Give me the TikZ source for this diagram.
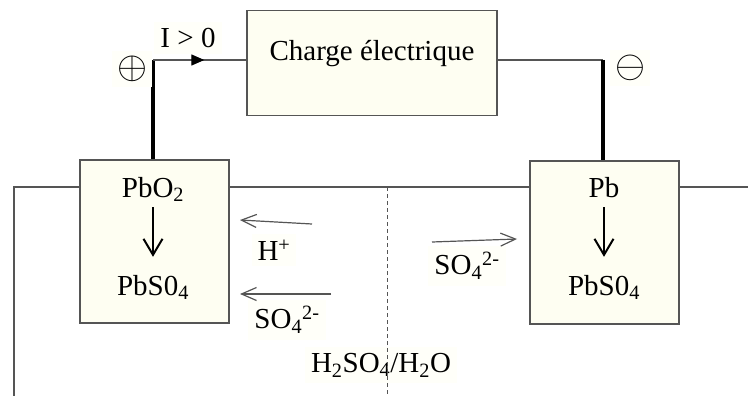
\documentclass[tikz,border=0pt]{standalone}
\usepackage{fontspec}
\setmainfont{Liberation Serif}
\usetikzlibrary{arrows.meta,decorations.markings}
\definecolor{creme}{RGB}{254,254,242}
\definecolor{trait}{RGB}{85,85,85}

\begin{document}
\begin{tikzpicture}[x=1pt,y=-1pt,font=\fontsize{29}{33}\selectfont,
  boite/.style={draw=trait,line width=1.3pt,fill=creme,inner sep=0pt},
  espece/.style={inner sep=4pt,text height=20pt,text depth=6pt},
  etiquette/.style={fill=creme!45,inner sep=6pt},
  borne/.style={fill=creme!45,inner sep=5pt},
  fil/.style={draw=trait,line width=1.3pt},
  filepais/.style={draw=black,line width=3.5pt},
  ion/.style={draw=trait,line width=1.2pt,-{Straight Barb[length=15pt,width=13pt]}},
  reaction/.style={draw=black,line width=2pt,shorten >=14pt,-{Straight Barb[length=16pt,width=19pt]}}]
  \useasboundingbox (0,0) rectangle (748,396);
  % electrolyte (cuve)
  \coordinate (surface) at (14,187);
  \coordinate (fond) at (14,396);
  \coordinate (bord) at (748,187);
  \coordinate (separhaut) at (387,187);
  \coordinate (separbas) at (387,396);
  % boites
  \node[boite,minimum width=250pt,minimum height=105pt,text height=20pt,text depth=24pt] (charge) at (372,63) {Charge électrique};
  \node[boite,minimum width=149pt,minimum height=163pt] (plaqueplus) at (154.5,241.5) {};
  \node[boite,minimum width=149pt,minimum height=163pt] (plaquemoins) at (604.5,242.5) {};
  \draw[fil] (fond) -- (surface) -- (plaqueplus.west |- surface);
  \draw[fil] (plaqueplus.east |- surface) -- (plaquemoins.west |- surface);
  \draw[fil] (plaquemoins.east |- surface) -- (bord);
  % reactions aux electrodes
  \node[espece] (pbo2) at (153,190) {PbO\textsubscript{2}};
  \node[espece] (sulfplus) at (153,288) {PbS0\textsubscript{4}};
  \node[espece] (pb) at (604,190) {Pb};
  \node[espece] (sulfmoins) at (604,288) {PbS0\textsubscript{4}};
  \draw[reaction] (pbo2) -- (sulfplus);
  \draw[reaction] (pb) -- (sulfmoins);
  % circuit exterieur
  \coordinate (coinplus) at (153,60);
  \coordinate (coinmoins) at (603,60);
  \draw[filepais] (plaqueplus.north -| coinplus) -- (coinplus);
  \draw[fil,postaction={decorate},decoration={markings,
    mark=at position 0.55 with {\arrow[black]{Triangle[length=13pt,width=11pt]}}}]
    (coinplus) -- (charge.west |- coinplus);
  \draw[fil] (charge.east |- coinmoins) -- (coinmoins);
  \draw[filepais] (coinmoins) -- (plaquemoins.north -| coinmoins);
  \node[borne] (plus) at (132,69) {\scalebox{1.55}{$\oplus$}};
  \node[borne] (moins) at (630,68) {\scalebox{1.55}{$\ominus$}};
  \node[etiquette] (courant) at (188,38) {I > 0};
  % migration des ions
  \node[etiquette] (hplus) at (274,250) {H\textsuperscript{+}};
  \node[etiquette] (sulfg) at (287,320) {SO\textsubscript{4}\textsuperscript{2-}};
  \node[etiquette] (sulfd) at (467,266) {SO\textsubscript{4}\textsuperscript{2-}};
  \node[etiquette] (electrolyte) at (381,365) {H\textsubscript{2}SO\textsubscript{4}/H\textsubscript{2}O};
  \coordinate (hdepart) at (312,224);
  \coordinate (harrivee) at (240,220);
  \coordinate (sgdepart) at (331,294);
  \coordinate (sgarrivee) at (240,294);
  \coordinate (sddepart) at (432,242);
  \coordinate (sdarrivee) at (517,239);
  \draw[ion] (hdepart) -- (harrivee);
  \draw[ion] (sgdepart) -- (sgarrivee);
  \draw[ion] (sddepart) -- (sdarrivee);
  \draw[fil,line width=1pt,dash pattern=on 4pt off 3pt] (separhaut) -- (separbas);
\end{tikzpicture}
\end{document}
